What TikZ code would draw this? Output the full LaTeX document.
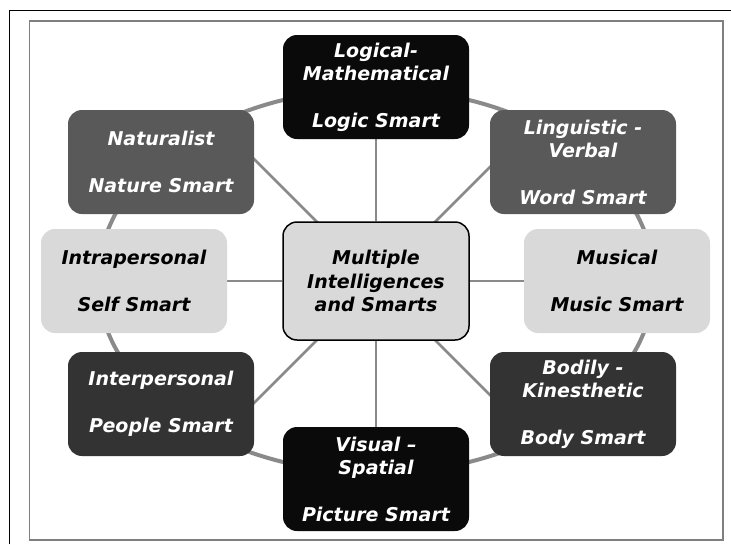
\documentclass[tikz,border=0pt]{standalone}
\usepackage{fontspec}
\setmainfont{DejaVu Sans}
\usetikzlibrary{backgrounds}
\definecolor{ringgray}{HTML}{8A8A8A}
\definecolor{midgray}{HTML}{595959}
\definecolor{darkgray2}{HTML}{333333}
\definecolor{lightgray2}{HTML}{D9D9D9}
\definecolor{nearblack}{HTML}{0A0A0A}
\definecolor{framegray}{HTML}{7F7F7F}
\tikzset{
  box/.style={rounded corners=14pt, minimum width=186pt, minimum height=104pt,
    align=center, inner sep=0pt,
    font=\fontsize{19}{23.3}\selectfont\bfseries\itshape,
    execute at begin node={\rule{0pt}{19.5pt}}},
  blackbox/.style={box, fill=nearblack, text=white},
  midbox/.style={box, fill=midgray, text=white},
  darkbox/.style={box, fill=darkgray2, text=white},
  lightbox/.style={box, fill=lightgray2, text=black},
  centerbox/.style={box, fill=lightgray2, text=black, draw=black, line width=1.5pt, minimum height=118pt},
  spoke/.style={draw=ringgray, line width=2.5pt},
  ring/.style={draw=ringgray, line width=4pt}
}
\begin{document}
\begin{tikzpicture}[x=1pt,y=-1pt]
\useasboundingbox (0,0) rectangle (731,544);
\draw[black, line width=1.2pt] (9.5,544) -- (9.5,10.3) -- (731,10.3);
\draw[framegray, line width=1.5pt] (29.5,21) rectangle (723,540);

\node[centerbox] (C) at (376,281) {Multiple\\Intelligences\\and Smarts};
\node[blackbox] (L) at (376,87) {Logical-\\Mathematical\\[23.3pt]Logic Smart};
\node[midbox] (Nat) at (161,162) {Naturalist\\[23.3pt]Nature Smart};
\node[midbox] (Lin) at (583,162) {Linguistic -\\Verbal\\[23.3pt]Word Smart};
\node[lightbox] (Intra) at (134,281) {Intrapersonal\\[23.3pt]Self Smart};
\node[lightbox] (Mus) at (617,281) {Musical\\[23.3pt]Music Smart};
\node[darkbox] (Inter) at (161,404) {Interpersonal\\[23.3pt]People Smart};
\node[darkbox] (Bod) at (583,404) {Bodily -\\Kinesthetic\\[23.3pt]Body Smart};
\node[blackbox] (Vis) at (376,479) {Visual –\\Spatial\\[23.3pt]Picture Smart};

\coordinate (natend) at (230,135);
\coordinate (linend) at (522,135);
\coordinate (interend) at (230,427);
\coordinate (bodend) at (522,427);

\begin{scope}[on background layer]
\draw[ring] (C.center) ellipse [x radius=278pt, y radius=192pt];
\foreach \n in {L,Intra,Mus,Vis}
  \draw[spoke] (C) -- (\n);
\foreach \n in {natend,linend,interend,bodend}
  \draw[spoke] (C.center) -- (\n);
\end{scope}
\end{tikzpicture}
\end{document}
